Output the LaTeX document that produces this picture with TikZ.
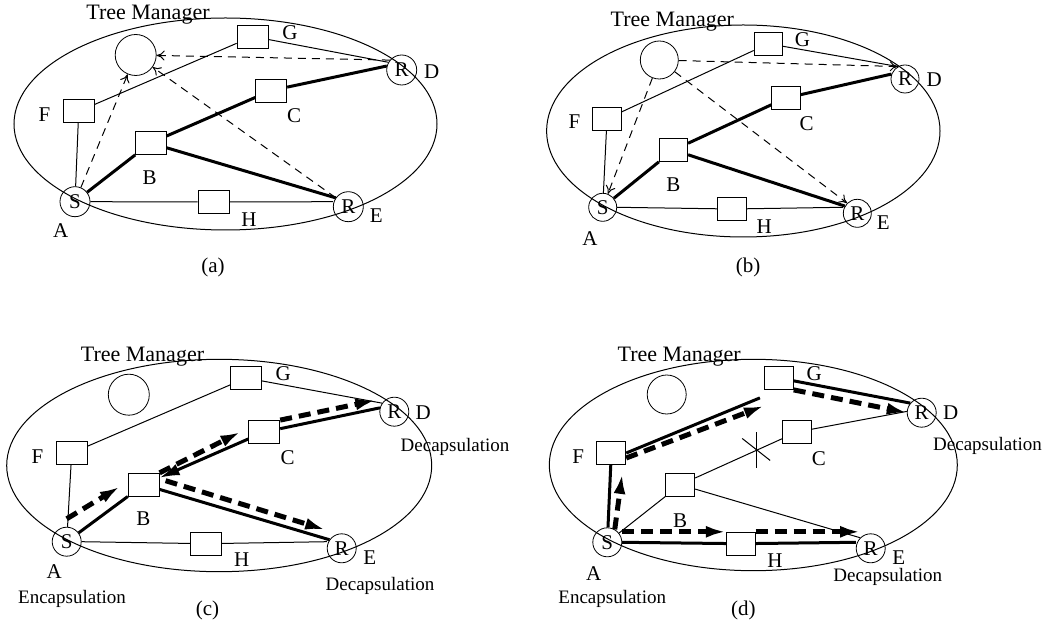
\documentclass[tikz,border=0pt]{standalone}
\usepackage{fontspec}
\setmainfont{Liberation Serif}
\usetikzlibrary{arrows.meta,calc}
\tikzset{
  router/.style={draw, circle, minimum size=15pt, inner sep=0pt, font=\fontsize{10.5}{10.5}\selectfont},
  mgr/.style={draw, circle, minimum size=20.5pt, inner sep=0pt},
  box/.style={draw, fill=white, minimum width=15.5pt, minimum height=11.5pt, inner sep=0pt},
  tag/.style={font=\fontsize{10.5}{12}\selectfont, inner sep=0pt},
  note/.style={font=\fontsize{9.5}{11}\selectfont, inner sep=0pt, anchor=base},
  title/.style={font=\fontsize{11}{13}\selectfont, inner sep=0pt, anchor=base},
  link/.style={line width=0.5pt},
  tree/.style={line width=1.5pt},
  ctrl/.style={line width=0.5pt, dash pattern=on 4pt off 3pt, -{To[length=4pt,width=5pt]}},
  flow/.style={line width=2.5pt, dash pattern=on 6pt off 3.5pt, -{Latex[length=10pt,width=6pt]}},
}
\begin{document}
\begin{tikzpicture}[x=0.5pt, y=-0.5pt]
  \useasboundingbox (0,0) rectangle (1063,624);

  % (a) join: receivers report to the manager
  \begin{scope}
    \draw[link] (225.5,124) ellipse [x radius=211.5, y radius=106];
    \node[title] (a-title) at (148,19.3) {Tree Manager};
    \node[mgr] (a-TM) at (135.7,55) {};
    \node[box] (a-G) at (252.5,36.5) {};
    \node[box] (a-C) at (271.3,90.5) {};
    \node[box] (a-F) at (78.7,111.3) {};
    \node[box] (a-B) at (150.5,143) {};
    \node[box] (a-H) at (213.5,202) {};
    \node[router] (a-S) at (75,201.7) {S};
    \node[router] (a-D) at (401.7,70) {R};
    \node[router] (a-E) at (348.3,206.7) {R};
    \node[tag] (a-lG) at (290,32.7) {G};
    \node[tag] (a-lD) at (431.7,71.7) {D};
    \node[tag] (a-lC) at (294,115.8) {C};
    \node[tag] (a-lF) at (44.5,114.5) {F};
    \node[tag] (a-lB) at (149.7,177.8) {B};
    \node[tag] (a-lA) at (60.8,231) {A};
    \node[tag] (a-lH) at (249,219.7) {H};
    \node[tag] (a-lE) at (376.3,215.5) {E};
    \node[tag] (a-cap) at (213,267) {(a)};
    \draw[link] (a-S) -- (a-F) -- (a-G) -- (a-D.150);
    \draw[link] (a-S.east) -- (a-H) -- (a-S.east -| a-E.west);
    \draw[tree] (a-S) -- (a-B) -- (a-C) -- (a-D.165);
    \draw[tree] (a-B) -- (a-E.145);
    \draw[ctrl] (a-D.140) -- (a-TM);
    \draw[ctrl] (a-S) -- (a-TM);
    \draw[ctrl] (a-E) -- (a-TM);
  \end{scope}

  % (b) manager answers
  \begin{scope}[router/.append style={minimum size=14pt}, box/.append style={minimum width=14.2pt}]
    \draw[link] (743.3,131) ellipse [x radius=196.7, y radius=106];
    \node[title] (b-title) at (672.3,26.7) {Tree Manager};
    \node[mgr, minimum size=19pt] (b-TM) at (659.3,60) {};
    \node[box] (b-G) at (768.3,43.7) {};
    \node[box] (b-C) at (786,98) {};
    \node[box] (b-F) at (607,118.7) {};
    \node[box] (b-B) at (673.5,150) {};
    \node[box] (b-H) at (731.7,209) {};
    \node[router] (b-S) at (602.7,207.3) {S};
    \node[router] (b-D) at (905,79) {R};
    \node[router] (b-E) at (857.3,213.3) {R};
    \node[tag] (b-lG) at (802.5,39.3) {G};
    \node[tag] (b-lD) at (934.2,79.2) {D};
    \node[tag] (b-lC) at (806.7,124) {C};
    \node[tag] (b-lF) at (574.5,121.2) {F};
    \node[tag] (b-lB) at (673.3,184.2) {B};
    \node[tag] (b-lA) at (590,238.3) {A};
    \node[tag] (b-lH) at (764.2,226.7) {H};
    \node[tag] (b-lE) at (883.3,222.5) {E};
    \node[tag] (b-cap) at (748,267) {(b)};
    \draw[link] (b-S) -- (b-F) -- (b-G) -- (b-D.120);
    \draw[link] (b-S.east) -- (b-H) -- (b-S.east -| b-E.west);
    \draw[tree] (b-S) -- (b-B) -- (b-C) -- (b-D.160);
    \draw[tree] (b-B) -- (b-E.150);
    \draw[ctrl] (b-TM) -- (b-S);
    \draw[ctrl] (b-TM) -- (b-E.135);
    \draw[ctrl] (b-TM) -- (b-D.120);
  \end{scope}

  % (c) data on the tree
  \begin{scope}[router/.append style={minimum size=14.5pt}]
    \draw[link] (219.2,465.5) ellipse [x radius=212.5, y radius=106.2];
    \node[title] (c-title) at (142.5,361.7) {Tree Manager};
    \node[mgr] (c-TM) at (128.8,394.7) {};
    \node[box] (c-G) at (246.2,378) {};
    \node[box] (c-C) at (264.3,432) {};
    \node[box] (c-F) at (71.7,453) {};
    \node[box] (c-B) at (143.7,484.7) {};
    \node[box] (c-H) at (206.3,543.7) {};
    \node[router] (c-S) at (66.7,541.7) {S};
    \node[router] (c-D) at (394.3,411.7) {R};
    \node[router] (c-E) at (341.7,548.3) {R};
    \node[tag] (c-lG) at (283.3,373.7) {G};
    \node[tag] (c-lD) at (423.3,412.5) {D};
    \node[tag] (c-lC) at (287.5,458) {C};
    \node[tag] (c-lF) at (37.5,457) {F};
    \node[tag] (c-lB) at (143.3,518.5) {B};
    \node[tag] (c-lA) at (54.2,572) {A};
    \node[tag] (c-lH) at (241.7,560) {H};
    \node[tag] (c-lE) at (369.7,558) {E};
    \node[note] (c-enc) at (72,603.3) {Encapsulation};
    \node[note] (c-decE) at (380,590) {Decapsulation};
    \node[note] (c-decD) at (455,451.7) {Decapsulation};
    \node[tag] (c-cap) at (207.5,610.8) {(c)};
    \draw[link] (c-S) -- (c-F) -- (c-G) -- (c-D.145);
    \draw[link] (c-S.east) -- (c-H) -- (c-S.east -| c-E.west);
    \draw[tree] (c-S) -- (c-B);
    \draw[tree, -{Latex[length=10pt,width=6pt]}] (c-C) -- (c-B);
    \draw[tree] (c-C) -- (c-D.165);
    \draw[tree] (c-B) -- (c-E.145);
    \draw[flow] ([yshift=4pt]c-S.north) -- ([xshift=-4pt,yshift=-1pt]c-B.west);
    \draw[flow] (c-B.north east) -- ([xshift=-4pt]c-C.west);
    \draw[flow] (c-C.north east) -- ([xshift=-3pt,yshift=2pt]c-D.150);
    \draw[flow] ([xshift=3pt,yshift=2pt]c-B.east) -- ([xshift=-3pt,yshift=4pt]c-E.north west);
  \end{scope}

  % (d) link B-C broken, tree rebuilt
  \begin{scope}[router/.append style={minimum size=14.5pt}, box/.append style={minimum width=14.5pt}]
    \draw[link] (753.3,465) ellipse [x radius=204, y radius=105.7];
    \node[title] (d-title) at (679.2,361.7) {Tree Manager};
    \node[mgr, minimum size=19.5pt] (d-TM) at (666.7,394.5) {};
    \node[box] (d-G) at (778.8,378) {};
    \node[box] (d-C) at (797,432) {};
    \node[box] (d-F) at (611.3,453) {};
    \node[box] (d-B) at (680.3,484.7) {};
    \node[box] (d-H) at (740.8,543.7) {};
    \node[router] (d-S) at (607.3,542.3) {S};
    \node[router] (d-D) at (921.7,412.7) {R};
    \node[router] (d-E) at (870.7,548.3) {R};
    \node[tag] (d-lG) at (814.2,373.7) {G};
    \node[tag] (d-lD) at (950.8,413) {D};
    \node[tag] (d-lC) at (818.8,458.3) {C};
    \node[tag] (d-lF) at (578.3,457) {F};
    \node[tag] (d-lB) at (680,520.3) {B};
    \node[tag] (d-lA) at (593.8,573.3) {A};
    \node[tag] (d-lH) at (775,560.3) {H};
    \node[tag] (d-lE) at (898.8,557.8) {E};
    \node[note] (d-enc) at (612.2,603.3) {Encapsulation};
    \node[note] (d-decE) at (887.8,581.7) {Decapsulation};
    \node[note] (d-decD) at (987.5,450) {Decapsulation};
    \node[tag] (d-cap) at (743.3,610.8) {(d)};
    \draw[link] (d-S) -- (d-B) -- (d-C) -- (d-D.175);
    \draw[link] (d-B) -- (d-E.135);
    \coordinate (d-X) at ($(d-B)!0.65!(d-C)$);
    \draw[link] ([yshift=9pt]d-X) -- ([yshift=-9pt]d-X);
    \draw[link] ([shift={(-7pt,6pt)}]d-X) -- ([shift={(7pt,-5pt)}]d-X);
    \draw[tree] (d-S) -- (d-F);
    \draw[tree] (d-F.east) -- ([xshift=-2pt,yshift=-4pt]d-G.south west);
    \draw[tree] (d-G) -- (d-D.140);
    \draw[tree] (d-S.east) -- (d-H) -- (d-S.east -| d-E.west);
    \draw[flow] (d-S.60) -- ([xshift=-2pt,yshift=-4.5pt]d-F.south east);
    \draw[flow] ([yshift=-2.5pt]d-F.east) -- ([yshift=-8pt]d-G.south west);
    \draw[flow] (d-G.south east) -- (d-D.west);
    \draw[flow] (d-S.east |- d-H.north west) -- (d-H.north west);
    \draw[flow] (d-H.north east) -- (d-H.north east -| d-E.north west);
  \end{scope}
\end{tikzpicture}
\end{document}
